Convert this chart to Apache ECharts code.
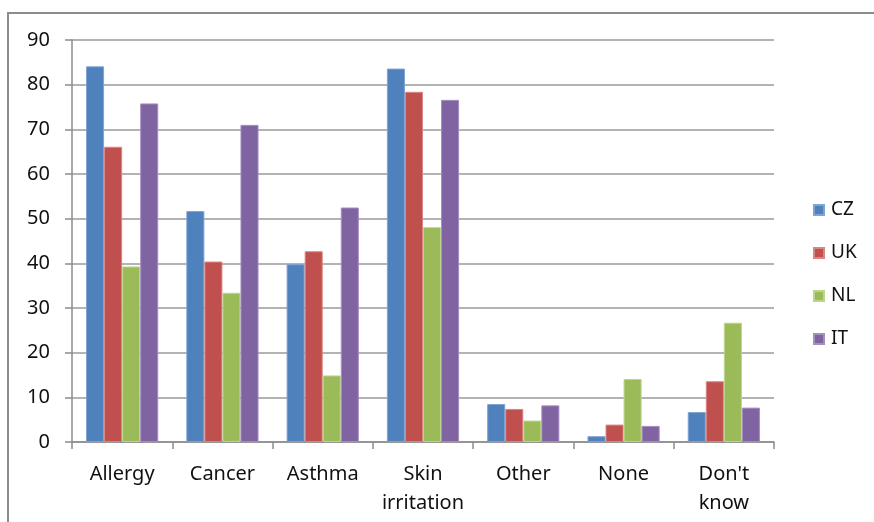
<!DOCTYPE html>
<html>
<head>
<meta charset="utf-8">
<script src="https://cdn.jsdelivr.net/npm/echarts@6/dist/echarts.min.js"></script>
<style>
  html, body { margin: 0; padding: 0; background: #fff; }
  #chart { width: 874px; height: 522px; }
</style>
</head>
<body>
<div id="chart"></div>
<script>
// Health effects named by respondents, percent per country
const categories = ['Allergy', 'Cancer', 'Asthma', 'Skin\nirritation', 'Other', 'None', "Don't\nknow"];
const seriesNames = ['CZ', 'UK', 'NL', 'IT'];
const valuesCZ = [84.1, 51.7, 39.8, 83.6, 8.5, 1.3, 6.7];
const valuesUK = [66.1, 40.4, 42.7, 78.4, 7.4, 3.9, 13.6];
const valuesNL = [39.3, 33.4, 14.9, 48.1, 4.8, 14.1, 26.7];
const valuesIT = [75.8, 71.0, 52.5, 76.6, 8.2, 3.6, 7.7];
const yTicks = [0, 10, 20, 30, 40, 50, 60, 70, 80, 90];

const colors = ['#4F81BD', '#C0504D', '#9BBB59', '#8064A2'];
const edgeColors = ['#7fa3d3', '#d98583', '#bcd58e', '#a48fc0'];
const allValues = [valuesCZ, valuesUK, valuesNL, valuesIT];
const font = "'Noto Sans', 'Open Sans', sans-serif";

const chart = echarts.init(document.getElementById('chart'), null, { renderer: 'canvas' });
chart.setOption({
  animation: false,
  color: colors,
  graphic: [{
    type: 'rect',
    shape: { x: 8, y: 13, width: 900, height: 600 },
    style: { fill: 'none', stroke: '#8c8c8c', lineWidth: 2 },
    silent: true
  }],
  grid: { left: 72, right: 100, top: 40, bottom: 80 },
  legend: {
    orient: 'vertical',
    left: 808,
    top: 195,
    itemWidth: 10,
    itemHeight: 10,
    itemGap: 23,
    icon: 'rect',
    textStyle: { fontFamily: font, fontSize: 19, color: '#111', lineHeight: 20, padding: [0, 0, 0, 2] },
    data: seriesNames
  },
  xAxis: {
    type: 'category',
    data: categories,
    axisLine: { lineStyle: { color: '#8c8c8c', width: 1.5 } },
    axisTick: { show: true, length: 7, lineStyle: { color: '#8c8c8c', width: 1.5 } },
    axisLabel: { fontFamily: font, fontSize: 20, color: '#111', margin: 18, lineHeight: 29, interval: 0 }
  },
  yAxis: {
    type: 'value',
    min: yTicks[0],
    max: yTicks[yTicks.length - 1],
    interval: 10,
    axisLine: { show: true, lineStyle: { color: '#8c8c8c', width: 1.5 } },
    axisTick: { show: true, length: 7, lineStyle: { color: '#8c8c8c', width: 1.5 } },
    axisLabel: { fontFamily: font, fontSize: 20, color: '#111', margin: 22 },
    splitLine: { lineStyle: { color: '#b3b3b3', width: 2 } }
  },
  series: seriesNames.map((name, i) => ({
    name: name,
    type: 'bar',
    data: allValues[i],
    barGap: '0%',
    barCategoryGap: '28%',
    itemStyle: { color: colors[i], borderColor: edgeColors[i], borderWidth: 1 }
  }))
});
</script>
</body>
</html>
